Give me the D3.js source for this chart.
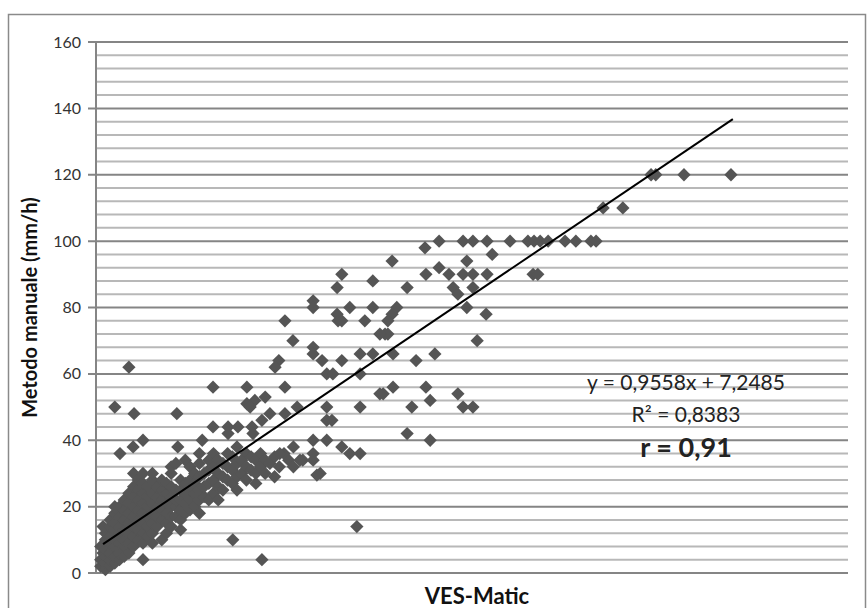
<!DOCTYPE html>
<html lang="it">
<head>
  <meta charset="UTF-8">
  <title>VES-Matic vs metodo manuale</title>
  <script src="https://d3js.org/d3.v7.min.js"></script>
  <style>
    body { margin: 0; background: #fff; font-family: Lato, "Open Sans", sans-serif; }
    .tick-label { font-size: 16px; fill: #333; }
    .axis-title { font-weight: bold; fill: #111; }
    .eq { font-size: 21px; fill: #222; }
  </style>
</head>
<body>
  <svg width="868" height="608"></svg>
  <script>
    // valori: [VES-Matic, metodo manuale]
    const puntiSparsi = [
      [118.1,120],[119.1,120],[125.1,120],[135.1,120],
      [107.9,110],[112.1,110],
      [73.0,100],[78.1,100],[80.2,100],[83.2,100],[88.1,100],[91.9,100],[93.2,100],[94.5,100],[96.2,100],[99.8,100],[102.1,100],[105.3,100],[106.4,100],
      [70.0,98],[63.0,94],[78.9,94],[84.3,96],[73.0,92],
      [70.2,90],[75.1,90],[78.1,90],[80.2,90],[83.2,90],[93.0,90],[94.0,90],[52.3,90],
      [58.9,88],[66.2,86],[76.0,86],[80.2,86],[51.3,86],[77.0,84],[46.2,82],
      [64.0,80],[78.9,80],[46.2,80],[54.0,80],[58.9,80],
      [63.0,78],[83.0,78],[51.3,78],
      [62.1,76],[51.5,76],[52.3,76],[57.2,76],[40.2,76],
      [61.5,72],[62.1,72],[60.4,72],
      [81.1,70],[41.9,70],[46.2,68],
      [63.2,66],[72.1,66],[46.2,66],[56.2,66],[58.9,66],
      [68.1,64],[38.9,64],[48.1,64],[52.3,64],[38.1,62],[7.0,62],
      [49.1,60],[50.4,60],[56.2,60],
      [63.2,56],[70.2,56],[24.9,56],[32.1,56],[40.2,56],
      [61.1,54],[77.0,54],[60.4,54],
      [71.1,52],[33.8,52],[36.0,53],[32.1,51],[32.8,50],
      [67.2,50],[78.1,50],[80.2,50],[42.8,50],[49.1,50],[56.2,50],[4.0,50],
      [8.1,48],[17.2,48],[37.0,48],[40.2,48],
      [49.1,46],[50.2,46],[35.3,46],
      [24.9,44],[28.1,44],[30.2,44],[33.2,44],
      [66.2,42],[28.1,42],[33.4,42],
      [71.1,40],[22.6,40],[46.2,40],[49.1,40],[10.0,40],
      [52.3,38],[7.9,38],[17.4,38],
      [54.0,36],[56.2,36],[46.2,36],[39.1,36],[5.1,36],
      [44.0,34],[46.2,34],[43.4,34],
      [47.7,30],[47.0,29.5],
      [55.5,14],[29.1,10],[35.3,4],[10.0,4],[4.0,20]
    ];

    const puntiDensi = [
      [1,2],[1,4],[1.5,6],[1,8],[2,1],[2,3],[2,5],[2,7],[2,10],[2,12],[1.5,14],
      [3,2],[3,4],[3,6],[3,9],[3,11],[3,14],[3,16],
      [4,3],[4,5],[4,8],[4,10],[4,13],[4,15],[4,18],
      [5,4],[5,6],[5,9],[5,12],[5,14],[5,17],[5,20],
      [6,5],[6,8],[6,10],[6,13],[6,16],[6,19],[6,22],
      [7,6],[7,9],[7,12],[7,15],[7,18],[7,21],[7,24],
      [8,8],[8,11],[8,14],[8,17],[8,20],[8,23],[8,26],[8,30],
      [9,10],[9,13],[9,16],[9,19],[9,22],[9,25],[9,28],
      [10,9],[10,12],[10,15],[10,18],[10,21],[10,24],[10,27],[10,30],
      [11,11],[11,14],[11,17],[11,20],[11,23],[11,26],
      [12,9],[12,12],[12,15],[12,18],[12,21],[12,24],[12,28],[12,30],
      [13,14],[13,17],[13,20],[13,23],[13,26],
      [14,10],[14,16],[14,19],[14,22],[14,25],[14,28],
      [15,12],[15,15],[15,18],[15,21],[15,24],[15,27],
      [16,14],[16,17],[16,20],[16,23],[16,26],[16,30],[16,32],
      [17,17],[17,20],[17,22],[17,25],[17,33],
      [18,13],[18,16],[18,19],[18,22],[18,25],[18,28],
      [19,18],[19,21],[19,24],[19,27],[19,34],
      [20,19],[20,22],[20,25],[20,28],[20,32],
      [21,20],[21,24],[21,27],[21,30],
      [22,18],[22,22],[22,25],[22,29],[22,33],[22,36],
      [23,23],[23,26],[23,30],
      [24,22],[24,27],[24,31],[24,34],
      [25,24],[25,28],[25,32],[25,36],
      [26,22],[26,26],[26,30],[26,34],
      [27,25],[27,29],[27,33],
      [28,28],[28,32],[28,36],
      [29,27],[29,31],[29,35],
      [30,25],[30,29],[30,33],[30,38],
      [31,30],[31,34],[32,28],[32,32],[32,36],
      [33,31],[33,35],[34,27],[34,30],[34,34],[35,32],[35,36],
      [36,30],[36,34],[37,33],[38,29],[38,35],[39,32],[40,36],[41,34],[42,32],[42,38]
    ];

    const yMajor = [0, 20, 40, 60, 80, 100, 120, 140, 160];
    const yMinor = d3.range(0, 161, 4);
    // retta di regressione y = 0,9558x + 7,2485 (estremi x)
    const pendenza = 0.9558, intercetta = 7.2485;
    const trendX = [1.5, 135.5];
    const etichette = ["y = 0,9558x + 7,2485", "R² = 0,8383", "r = 0,91"];

    const svg = d3.select("svg");
    const margin = { top: 42, right: 20, bottom: 35, left: 96 };
    const width = 848 - margin.left;
    const height = 573 - margin.top;

    // cornice esterna
    svg.append("rect")
      .attr("x", 8.5).attr("y", 14.5)
      .attr("width", 857).attr("height", 620)
      .attr("fill", "none").attr("stroke", "#8a8a8a").attr("stroke-width", 1.5);

    const g = svg.append("g")
      .attr("transform", `translate(${margin.left},${margin.top})`);

    const x = d3.scaleLinear().domain([0, 160]).range([0, width]);
    const y = d3.scaleLinear().domain([0, 160]).range([height, 0]);

    // griglia secondaria
    g.selectAll(".minor")
      .data(yMinor.filter(v => v % 20 !== 0))
      .enter().append("line")
      .attr("x1", 0).attr("x2", width)
      .attr("y1", d => y(d)).attr("y2", d => y(d))
      .attr("stroke", "#b8b8b8").attr("stroke-width", 2);

    // griglia principale + tacche
    g.selectAll(".major")
      .data(yMajor)
      .enter().append("line")
      .attr("x1", -8).attr("x2", width)
      .attr("y1", d => y(d)).attr("y2", d => y(d))
      .attr("stroke", "#858585").attr("stroke-width", 2);

    g.append("line")
      .attr("x1", 0).attr("x2", 0).attr("y1", 0).attr("y2", height)
      .attr("stroke", "#858585").attr("stroke-width", 2);

    g.selectAll(".tick-label")
      .data(yMajor)
      .enter().append("text")
      .attr("class", "tick-label")
      .attr("x", -15).attr("y", d => y(d))
      .attr("dy", "0.35em")
      .attr("text-anchor", "end")
      .text(d => d);

    const diamond = d3.symbol().type(d3.symbolSquare).size(88);
    g.selectAll(".pt")
      .data(puntiDensi.concat(puntiSparsi))
      .enter().append("path")
      .attr("d", diamond)
      .attr("transform", d => `translate(${x(d[0])},${y(d[1])}) rotate(45)`)
      .attr("fill", "#555");

    g.append("line")
      .attr("x1", x(trendX[0])).attr("y1", y(pendenza * trendX[0] + intercetta))
      .attr("x2", x(trendX[1])).attr("y2", y(pendenza * trendX[1] + intercetta))
      .attr("stroke", "#000").attr("stroke-width", 2);

    // titoli assi
    svg.append("text")
      .attr("class", "axis-title")
      .style("font-size", "20px")
      .attr("transform", `translate(37,${margin.top + height / 2}) rotate(-90)`)
      .attr("text-anchor", "middle")
      .text("Metodo manuale (mm/h)");

    svg.append("text")
      .attr("class", "axis-title")
      .style("font-size", "22px")
      .attr("x", 477).attr("y", 604)
      .attr("text-anchor", "middle")
      .text("VES-Matic");

    // equazione
    svg.append("text").attr("class", "eq")
      .attr("x", 686).attr("y", 390).attr("text-anchor", "middle")
      .text(etichette[0]);
    svg.append("text").attr("class", "eq")
      .attr("x", 686).attr("y", 422).attr("text-anchor", "middle")
      .text(etichette[1]);
    svg.append("text").attr("class", "eq")
      .attr("x", 686).attr("y", 457).attr("text-anchor", "middle")
      .style("font-weight", "bold").style("font-size", "27px")
      .text(etichette[2]);
  </script>
</body>
</html>
